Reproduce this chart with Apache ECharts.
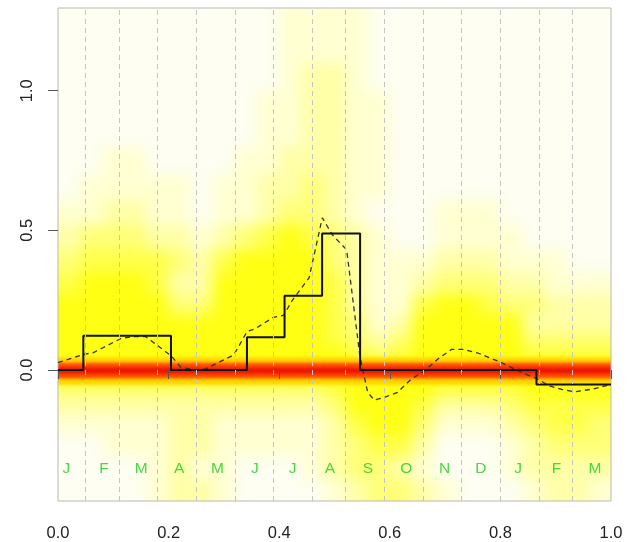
<!DOCTYPE html>
<html>
<head>
<meta charset="utf-8">
<script src="https://cdn.jsdelivr.net/npm/echarts@6/dist/echarts.min.js"></script>
<style>
html,body{margin:0;padding:0;background:#ffffff;}
#wrap{position:relative;width:629px;height:542px;overflow:hidden;}
.clip{position:absolute;left:58px;top:8px;width:553px;height:493px;overflow:hidden;}
.layer{position:absolute;left:-58px;top:-8px;width:629px;height:542px;}
#heat{filter:blur(7px);}
#band{filter:blur(1.6px);}
#main{position:absolute;left:0;top:0;width:629px;height:542px;}
</style>
</head>
<body>
<div id="wrap">
  <div class="clip"><div id="heat" class="layer"></div></div>
  <div class="clip"><div id="band" class="layer"></div></div>
  <div id="main"></div>
</div>
<script>
// ---------------- data ----------------
const xTicks = [0, 0.2, 0.4, 0.6, 0.8, 1.0];
const yTicks = [0, 0.5, 1.0];

// month boundaries (vertical dashed lines)
const monthLines = [0.0458, 0.1139, 0.1824, 0.2499, 0.3185, 0.3866, 0.4552, 0.5240, 0.5913, 0.6601, 0.7279, 0.7966, 0.8652, 0.9327];
// month letters
const monthLetters = ['J','F','M','A','M','J','J','A','S','O','N','D','J','F','M'];
const monthLetterX = [0.0150, 0.0831, 0.1504, 0.2190, 0.2883, 0.3558, 0.4244, 0.4917, 0.5605, 0.6298, 0.6991, 0.7646, 0.8319, 0.9012, 0.9711];
const monthLetterY = -0.352;

// step function (level starting at x)
const stepX = [0, 0.0458, 0.2043, 0.3417, 0.4097, 0.4776, 0.5463, 0.8652, 1.0];
const stepY = [0, 0.123, 0, 0.117, 0.266, 0.489, 0, -0.052, -0.052];

// dashed curve
const dashX = [0, 0.046, 0.064, 0.113, 0.136, 0.158, 0.169, 0.204, 0.222, 0.248, 0.267, 0.287, 0.318, 0.342, 0.357, 0.389, 0.408, 0.424, 0.454, 0.478, 0.496, 0.522, 0.546, 0.560, 0.572, 0.590, 0.614, 0.638, 0.662, 0.690, 0.712, 0.732, 0.760, 0.798, 0.842, 0.865, 0.890, 0.912, 0.934, 0.968, 1.0];
const dashY = [0.026, 0.056, 0.062, 0.112, 0.120, 0.120, 0.104, 0.052, 0.010, 0.0, 0.004, 0.024, 0.054, 0.138, 0.148, 0.188, 0.196, 0.250, 0.330, 0.545, 0.484, 0.430, 0.048, -0.080, -0.108, -0.098, -0.080, -0.034, -0.004, 0.044, 0.074, 0.074, 0.060, 0.030, -0.012, -0.030, -0.058, -0.070, -0.078, -0.068, -0.052];

// density image: bin edges and intensity levels (0..9), rows listed top -> bottom
const densXEdges = [0, 0.04, 0.08, 0.12, 0.16, 0.20, 0.24, 0.28, 0.32, 0.36, 0.40, 0.44, 0.48, 0.52, 0.56, 0.60, 0.64, 0.68, 0.72, 0.76, 0.80, 0.84, 0.88, 0.92, 0.96, 1.0];
const densYEdges = [-0.469, -0.39, -0.31, -0.23, -0.16, -0.10, -0.05, -0.03, -0.012, 0.008, 0.026, 0.045, 0.09, 0.14, 0.20, 0.27, 0.35, 0.43, 0.52, 0.61, 0.70, 0.80, 0.90, 1.00, 1.10, 1.20, 1.296];
const densRows = [
  "0000000000111100000000000",
  "0000000000111100000000000",
  "0000000000122100000000000",
  "0000000001122110000000000",
  "0000000001122110000000000",
  "0011000011222110000000000",
  "0111110112232110000000000",
  "1122110112332100011100000",
  "2333221234543210011110000",
  "3444432455553211122211100",
  "4555422555554211233322111",
  "5555533555554211455433222",
  "5555555555554312555552222",
  "5555555555554323555553333",
  "5555555555555434555554444",
  "6666666666666666666666666",
  "8888888888888888888888888",
  "9999999999999999999999999",
  "8888888888888888888888888",
  "6666666666666666666666666",
  "3333333333334555544445555",
  "2222222222223555422234444",
  "1111122111112455311123443",
  "0011122111112344200012333",
  "0000121100012332100012222",
  "0000122100001233210001221"
];

// ---------------- styles ----------------
const heatPalette = ['#fefef2','#ffffd2','#ffffa8','#ffff78','#ffff48','#ffff14','#ffd400','#ff9800','#ff4a00','#ea1200'];
const FONT = 'Liberation Sans, Arial, Helvetica, sans-serif';
const GRID = {left: 58, top: 8, width: 553, height: 493};
const YMIN = -0.469, YMAX = 1.296;
const BAND_LEVEL = 6;

// ---------------- heat layers ----------------
const heatData = [];
const nRows = densRows.length;
for (let r = 0; r < nRows; r++) {
  const yi = nRows - 1 - r;
  const s = densRows[r];
  for (let c = 0; c < s.length; c++) {
    heatData.push([c, yi, parseInt(s.charAt(c), 10)]);
  }
}

function makeRender(mode) {
  return function (params, api) {
    const xi = api.value(0), yi = api.value(1), lv = api.value(2);
    let level = lv;
    if (mode === 'broad') level = Math.min(lv, BAND_LEVEL - 1);
    else if (lv < BAND_LEVEL) return null;
    const p0 = api.coord([densXEdges[xi], densYEdges[yi]]);
    const p1 = api.coord([densXEdges[xi + 1], densYEdges[yi + 1]]);
    let x0 = p0[0], x1 = p1[0], yb = p0[1], yt = p1[1];
    if (xi === 0) x0 -= 20;
    if (xi === densXEdges.length - 2) x1 += 20;
    if (yi === 0) yb += 20;
    if (yi === densYEdges.length - 2) yt -= 20;
    return {
      type: 'rect',
      shape: {x: x0, y: yt, width: x1 - x0 + 0.7, height: yb - yt + 0.7},
      style: {fill: heatPalette[level]}
    };
  };
}

function heatOption(mode) {
  return {
    animation: false,
    backgroundColor: 'transparent',
    grid: Object.assign({show: false}, GRID),
    xAxis: {type: 'value', min: 0, max: 1, show: false},
    yAxis: {type: 'value', min: YMIN, max: YMAX, show: false},
    series: [{type: 'custom', silent: true, data: heatData, renderItem: makeRender(mode)}]
  };
}
echarts.init(document.getElementById('heat'), null, {renderer: 'canvas'}).setOption(heatOption('broad'));
echarts.init(document.getElementById('band'), null, {renderer: 'canvas'}).setOption(heatOption('band'));

// ---------------- main layer ----------------
const stepData = stepX.map((x, i) => [x, stepY[i]]);
const dashData = dashX.map((x, i) => [x, dashY[i]]);
const letterData = monthLetters.map((m, i) => ({name: m, value: [monthLetterX[i], monthLetterY]}));

const chart = echarts.init(document.getElementById('main'), null, {renderer: 'canvas'});
chart.setOption({
  animation: false,
  backgroundColor: 'transparent',
  grid: Object.assign({show: true, borderColor: '#b8b8b8', borderWidth: 1, backgroundColor: 'transparent'}, GRID),
  xAxis: {
    type: 'value', min: 0, max: 1, interval: 0.2,
    axisLine: {show: false},
    axisTick: {show: true, length: 9, lineStyle: {color: '#555555', width: 1}},
    axisLabel: {formatter: v => v.toFixed(1), fontSize: 16.5, color: '#222222', margin: 24, fontFamily: FONT},
    splitLine: {show: false}
  },
  yAxis: {
    type: 'value', min: YMIN, max: YMAX,
    axisLine: {show: false},
    axisTick: {show: true, length: 10, customValues: yTicks, lineStyle: {color: '#555555', width: 1}},
    axisLabel: {customValues: yTicks, formatter: v => v.toFixed(1), rotate: 90, fontSize: 16.5, color: '#222222', margin: 22, fontFamily: FONT},
    splitLine: {show: false}
  },
  series: [
    {
      type: 'line', data: [], silent: true,
      markLine: {
        silent: true, symbol: ['none', 'none'], label: {show: false}, animation: false,
        lineStyle: {color: '#c4c4c4', type: [5, 4], width: 1},
        data: monthLines.map(v => ({xAxis: v}))
      }
    },
    {
      type: 'line', data: dashData, symbol: 'none', silent: true, z: 3,
      lineStyle: {color: '#333333', width: 1.3, type: [5, 4]}
    },
    {
      type: 'line', data: stepData, step: 'end', symbol: 'none', silent: true, z: 4,
      lineStyle: {color: '#111111', width: 2}
    },
    {
      type: 'scatter', data: letterData, symbolSize: 0, silent: true, z: 5,
      label: {show: true, position: 'inside', formatter: '{b}', color: '#1ccc1c', fontSize: 15.5, fontFamily: FONT}
    }
  ]
});
</script>
</body>
</html>
